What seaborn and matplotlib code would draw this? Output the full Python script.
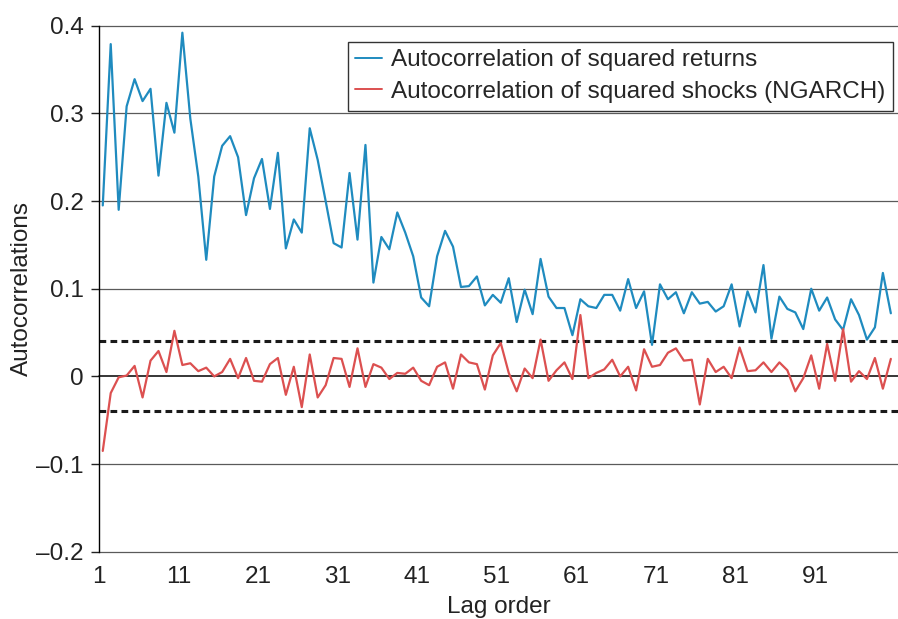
import pandas as pd
import matplotlib
matplotlib.use("Agg")
import matplotlib.pyplot as plt
import seaborn as sns

# values
lags = list(range(1, 101))
sq_returns = [
    0.195, 0.379, 0.190, 0.308, 0.339, 0.314, 0.328, 0.229, 0.312, 0.278,
    0.392, 0.294, 0.228, 0.133, 0.228, 0.263, 0.274, 0.250, 0.184, 0.226,
    0.248, 0.191, 0.255, 0.146, 0.179, 0.164, 0.283, 0.247, 0.200, 0.152,
    0.147, 0.232, 0.156, 0.264, 0.107, 0.159, 0.145, 0.187, 0.164, 0.137,
    0.090, 0.080, 0.137, 0.166, 0.148, 0.102, 0.103, 0.114, 0.081, 0.093,
    0.084, 0.112, 0.062, 0.099, 0.071, 0.134, 0.091, 0.078, 0.078, 0.047,
    0.088, 0.080, 0.078, 0.093, 0.093, 0.075, 0.111, 0.078, 0.097, 0.036,
    0.105, 0.088, 0.096, 0.072, 0.096, 0.083, 0.085, 0.074, 0.080, 0.105,
    0.057, 0.097, 0.073, 0.127, 0.043, 0.091, 0.077, 0.073, 0.054, 0.100,
    0.075, 0.090, 0.065, 0.053, 0.088, 0.070, 0.042, 0.056, 0.118, 0.072,
]
sq_shocks = [
    -0.085, -0.019, -0.001, 0.001, 0.012, -0.024, 0.018, 0.029, 0.005, 0.052,
    0.013, 0.015, 0.006, 0.010, 0.000, 0.005, 0.020, -0.002, 0.021, -0.005,
    -0.006, 0.014, 0.021, -0.021, 0.011, -0.035, 0.025, -0.024, -0.010, 0.021,
    0.020, -0.012, 0.032, -0.012, 0.014, 0.010, -0.003, 0.004, 0.003, 0.010,
    -0.005, -0.010, 0.011, 0.016, -0.014, 0.025, 0.016, 0.014, -0.015, 0.024,
    0.038, 0.004, -0.017, 0.009, -0.002, 0.042, -0.005, 0.007, 0.016, -0.003,
    0.070, -0.002, 0.004, 0.008, 0.019, 0.000, 0.011, -0.016, 0.031, 0.011,
    0.013, 0.027, 0.032, 0.018, 0.019, -0.032, 0.020, 0.005, 0.011, -0.002,
    0.033, 0.006, 0.007, 0.016, 0.005, 0.016, 0.007, -0.017, -0.002, 0.024,
    -0.014, 0.037, -0.005, 0.054, -0.006, 0.006, -0.003, 0.021, -0.014, 0.020,
]
series_names = ["Autocorrelation of squared returns",
                "Autocorrelation of squared shocks (NGARCH)"]
band = 0.04
x_ticks = [1, 11, 21, 31, 41, 51, 61, 71, 81, 91]
y_ticks = [-0.2, -0.1, 0, 0.1, 0.2, 0.3, 0.4]
y_labels = ["\u20130.2", "\u20130.1", "0", "0.1", "0.2", "0.3", "0.4"]

df = pd.DataFrame({
    "lag": lags * 2,
    "acf": sq_returns + sq_shocks,
    "serie": [series_names[0]] * len(lags) + [series_names[1]] * len(lags),
})

sns.set_theme(style="white")
plt.rcParams["font.family"] = ["Liberation Sans", "DejaVu Sans"]

fig = plt.figure(figsize=(8.98, 6.19), dpi=100)
ax = fig.add_axes([0.110, 0.1086, 0.890, 0.8499])

# linhas de grade horizontais
for yv in y_ticks:
    ax.axhline(yv, color="black" if yv == 0 else "#5a5a5a",
               lw=1.1 if yv == 0 else 0.9, zorder=1, clip_on=False)

sns.lineplot(data=df, x="lag", y="acf", hue="serie",
             palette=["#1f8bbf", "#dc5050"], linewidth=1.6, ax=ax, zorder=3)

# bandas de confianca
for yv in (band, -band):
    ax.axhline(yv, color="#1a1a1a", lw=2.2, dashes=(2.2, 1.4), zorder=2)

ax.set_xlim(0.5, 100.9)
ax.set_ylim(-0.2, 0.4)
ax.set_xticks([t - 0.5 for t in x_ticks])
ax.set_xticklabels([str(t) for t in x_ticks])
ax.set_yticks(y_ticks)
ax.set_yticklabels(y_labels)
ax.tick_params(axis="x", length=0, pad=10, labelsize=17.5, colors="#222222")
ax.tick_params(axis="y", length=6, width=1, pad=5, labelsize=17.5,
               direction="out", left=True, colors="#222222")

for side in ("top", "right", "bottom"):
    ax.spines[side].set_visible(False)
ax.spines["left"].set_color("black")
ax.spines["left"].set_linewidth(1.0)

ax.set_xlabel("Lag order", fontsize=17.5, labelpad=6, color="#222222")
ax.set_ylabel("Autocorrelations", fontsize=17.5, labelpad=2, color="#222222")

handles, labels = ax.get_legend_handles_labels()
leg = ax.legend(handles, labels, loc="upper right",
                bbox_to_anchor=(0.9934, 0.9696), borderaxespad=0,
                fontsize=17.5, handlelength=1.1, handletextpad=0.35,
                labelspacing=0.38, borderpad=0.32, frameon=True, fancybox=False)
leg.get_frame().set_edgecolor("black")
leg.get_frame().set_linewidth(1.0)
for line in leg.get_lines():
    line.set_linewidth(1.4)

fig.savefig("out.png", dpi=100)
plt.close(fig)
